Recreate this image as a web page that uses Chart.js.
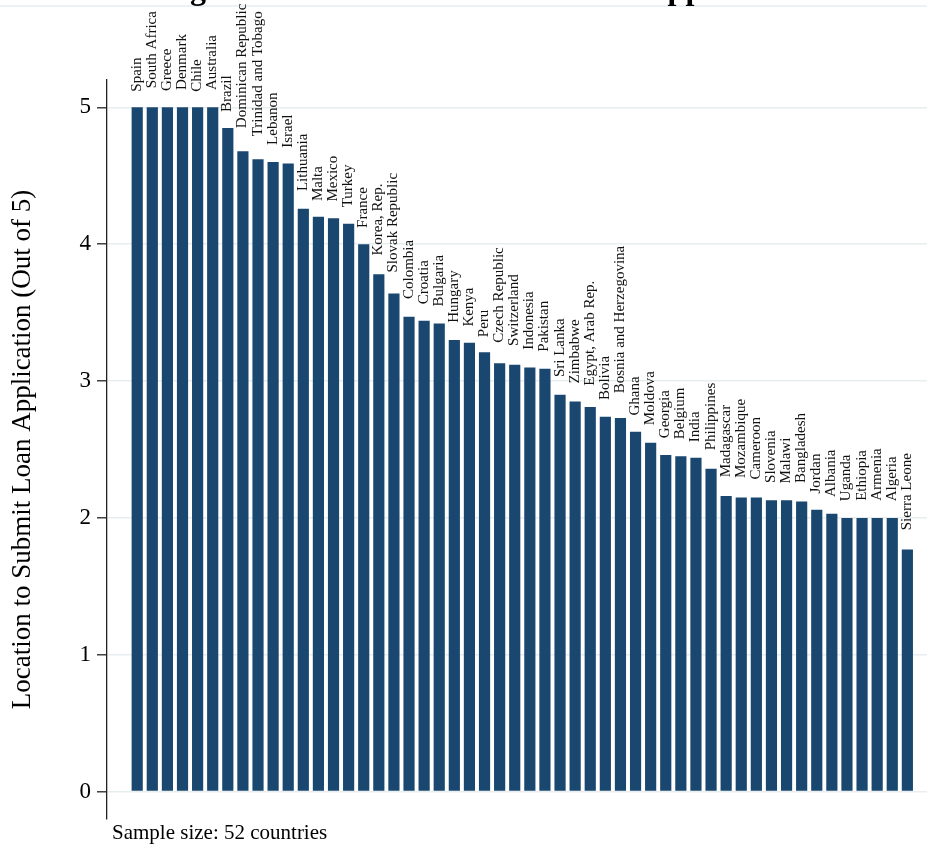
<!DOCTYPE html>
<html>
<head>
<meta charset="utf-8">
<title>Location to Submit Loan Application</title>
<script src="https://cdn.jsdelivr.net/npm/chart.js@4.4.1/dist/chart.umd.min.js"></script>
<style>
  html, body { margin: 0; padding: 0; background: #ffffff; overflow: hidden; }
  #wrap { position: relative; width: 927px; height: 846px; }
  canvas { display: block; }
</style>
</head>
<body>
<div id="wrap"><canvas id="chart" width="927" height="846"></canvas></div>
<script>
// Countries, ordered from highest to lowest score
const countries = [
  'Spain', 'South Africa', 'Greece', 'Denmark', 'Chile', 'Australia',
  'Brazil', 'Dominican Republic', 'Trinidad and Tobago', 'Lebanon', 'Israel',
  'Lithuania', 'Malta', 'Mexico', 'Turkey', 'France', 'Korea, Rep.',
  'Slovak Republic', 'Colombia', 'Croatia', 'Bulgaria', 'Hungary', 'Kenya',
  'Peru', 'Czech Republic', 'Switzerland', 'Indonesia', 'Pakistan',
  'Sri Lanka', 'Zimbabwe', 'Egypt, Arab Rep.', 'Bolivia',
  'Bosnia and Herzegovina', 'Ghana', 'Moldova', 'Georgia', 'Belgium', 'India',
  'Philippines', 'Madagascar', 'Mozambique', 'Cameroon', 'Slovenia', 'Malawi',
  'Bangladesh', 'Jordan', 'Albania', 'Uganda', 'Ethiopia', 'Armenia',
  'Algeria', 'Sierra Leone'
];

// Score for the location to submit a loan application (out of 5)
const scores = [
  5, 5, 5, 5, 5, 5,
  4.85, 4.68, 4.62, 4.60, 4.59,
  4.26, 4.20, 4.19, 4.15, 4.00, 3.78,
  3.64, 3.47, 3.44, 3.42, 3.30, 3.28,
  3.21, 3.13, 3.12, 3.10, 3.09,
  2.90, 2.85, 2.81, 2.74,
  2.73, 2.63, 2.55, 2.46, 2.45, 2.44,
  2.36, 2.16, 2.15, 2.15, 2.13, 2.13,
  2.12, 2.06, 2.03, 2.00, 2.00, 2.00,
  2.00, 1.77
];

const yTicks = [0, 1, 2, 3, 4, 5];

const titleText = 'Figure 5: Location to Submit Loan Application';
const yAxisTitle = 'Location to Submit Loan Application (Out of 5)';
const noteText = 'Sample size: 52 countries';

const SERIF = '"Liberation Serif", "Times New Roman", Times, serif';
const NAVY = '#1a476f';

// Country names written vertically above each bar
const barLabels = {
  id: 'barLabels',
  afterDatasetsDraw(chart) {
    const meta = chart.getDatasetMeta(0);
    const ctx = chart.ctx;
    ctx.save();
    ctx.font = '15px ' + SERIF;
    ctx.fillStyle = '#111111';
    ctx.textAlign = 'left';
    ctx.textBaseline = 'alphabetic';
    meta.data.forEach((bar, i) => {
      const text = countries[i];
      const w = ctx.measureText(text).width;
      const gap = 13 + 0.08 * w;
      ctx.save();
      ctx.translate(bar.x + 3.5, bar.y - gap);
      ctx.rotate(-Math.PI / 2);
      ctx.fillText(text, 0, 0);
      ctx.restore();
    });
    ctx.restore();
  }
};

// Page heading, rule under it and the sample-size note
const frameText = {
  id: 'frameText',
  beforeDraw(chart) {
    const ctx = chart.ctx;
    ctx.save();
    ctx.strokeStyle = '#e6eef0';
    ctx.lineWidth = 1.5;
    ctx.beginPath();
    ctx.moveTo(0, 6);
    ctx.lineTo(chart.width, 6);
    ctx.stroke();
    ctx.restore();
  },
  afterDraw(chart) {
    const ctx = chart.ctx;
    ctx.save();
    ctx.fillStyle = '#000000';
    ctx.font = 'bold 32px ' + SERIF;
    ctx.textAlign = 'center';
    ctx.textBaseline = 'alphabetic';
    ctx.fillText(titleText, 483, -1);

    ctx.font = '21px ' + SERIF;
    ctx.textAlign = 'left';
    ctx.fillText(noteText, chart.chartArea.left + 5, 839);
    ctx.restore();
  }
};

new Chart(document.getElementById('chart'), {
  type: 'bar',
  data: {
    datasets: [{
      data: scores.map((v, i) => ({ x: i, y: v })),
      backgroundColor: NAVY,
      borderWidth: 0,
      barPercentage: 0.74,
      categoryPercentage: 1.0
    }]
  },
  options: {
    responsive: false,
    animation: false,
    devicePixelRatio: 1,
    layout: { padding: { top: 80, bottom: 27, left: 0, right: 0 } },
    plugins: {
      legend: { display: false },
      title: { display: false },
      tooltip: { enabled: false }
    },
    scales: {
      x: {
        type: 'linear',
        display: false,
        min: -2.0,
        max: 52.3,
        offset: false
      },
      y: {
        type: 'linear',
        min: -0.2,
        max: 5.2,
        afterBuildTicks(scale) {
          scale.ticks = yTicks.map(v => ({ value: v }));
        },
        afterFit(scale) {
          scale.width = 107;
        },
        border: { display: true, color: '#222222', width: 1.3 },
        grid: {
          color: '#e6eef0',
          lineWidth: 1.6,
          drawTicks: true,
          tickLength: 10,
          tickColor: '#222222',
          tickWidth: 1.3
        },
        ticks: {
          color: '#000000',
          padding: 6,
          font: { family: SERIF, size: 23 }
        },
        title: {
          display: true,
          text: yAxisTitle,
          color: '#000000',
          font: { family: SERIF, size: 27 },
          padding: { top: 7, bottom: 0 }
        }
      }
    }
  },
  plugins: [frameText, barLabels]
});
</script>
</body>
</html>
